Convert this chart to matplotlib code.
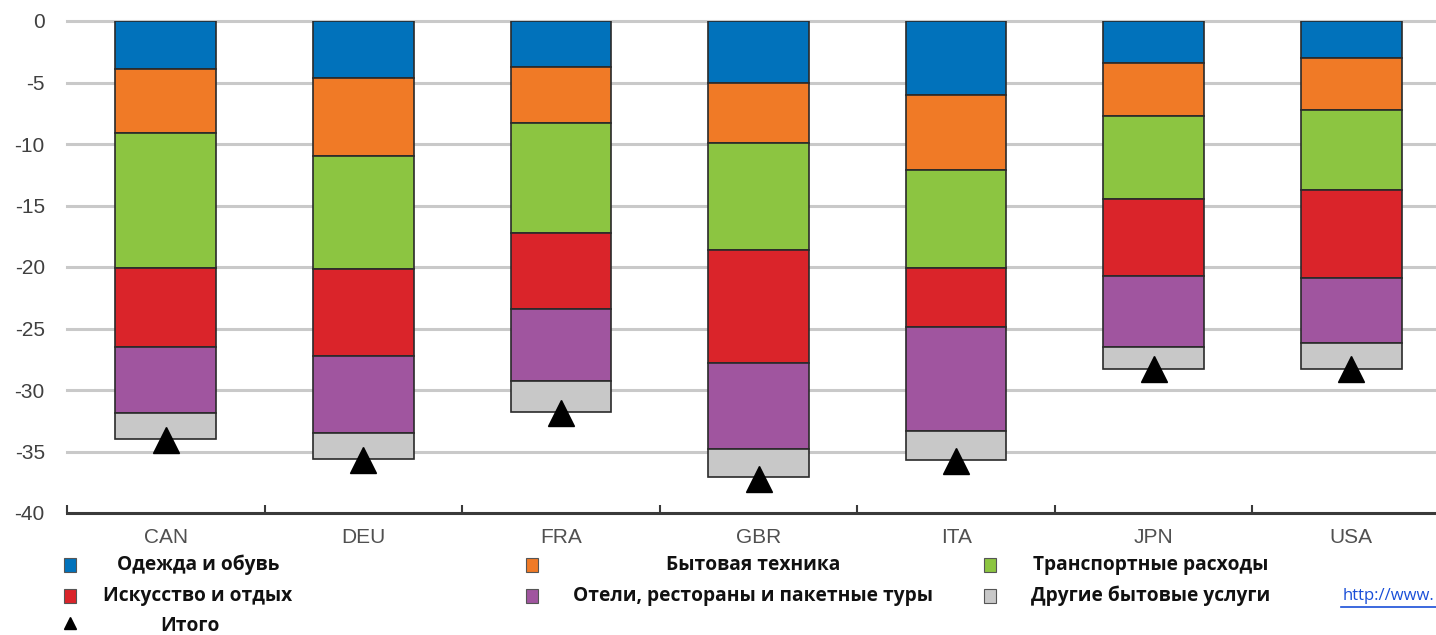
import matplotlib
matplotlib.use("Agg")
import matplotlib.pyplot as plt
from matplotlib.patches import Rectangle
from matplotlib.lines import Line2D
import numpy as np

countries = ["CAN", "DEU", "FRA", "GBR", "ITA", "JPN", "USA"]
clothing = [-3.9, -4.6, -3.7, -5.0, -6.0, -3.4, -3.0]
appliances = [-5.2, -6.4, -4.6, -4.9, -6.1, -4.3, -4.2]
transport = [-11.0, -9.2, -8.9, -8.7, -8.0, -6.8, -6.5]
recreation = [-6.4, -7.0, -6.2, -9.2, -4.8, -6.2, -7.2]
hotels = [-5.4, -6.3, -5.9, -7.0, -8.4, -5.8, -5.3]
other = [-2.1, -2.1, -2.5, -2.3, -2.4, -1.8, -2.1]
total = [-34.1, -35.7, -31.9, -37.2, -35.8, -28.3, -28.3]
yticks = [0, -5, -10, -15, -20, -25, -30, -35, -40]

series = [clothing, appliances, transport, recreation, hotels, other]
labels = ["Одежда и обувь", "Бытовая техника", "Транспортные расходы",
          "Искусство и отдых", "Отели, рестораны и пакетные туры",
          "Другие бытовые услуги"]
colors = ["#0172bb", "#f07a26", "#8cc541", "#da242a", "#a0559f", "#c8c8c8"]

W, H = 1436, 635
fig = plt.figure(figsize=(W / 100, H / 100), dpi=100)
left, right, top, bottom = 67, 1450, 21, 513
ax = fig.add_axes([left / W, 1 - bottom / H, (right - left) / W, (bottom - top) / H])

x = np.arange(len(countries))
base = np.zeros(len(countries))
for vals, col in zip(series, colors):
    v = np.array(vals)
    ax.bar(x, v, bottom=base, width=0.51, color=col, edgecolor="#2a2a2a",
           linewidth=1.2, zorder=3)
    base = base + v

ax.plot(x, total, linestyle="none", marker="^", markersize=19, color="black", zorder=4)

ax.set_xlim(-0.5, len(countries) - 0.5)
ax.set_ylim(-40, 0)
ax.set_yticks(yticks)
ax.set_yticklabels([str(t) for t in yticks])
ax.set_xticks(x)
ax.set_xticklabels(countries)
ax.set_xticks(np.arange(-0.5, len(countries), 1.0), minor=True)

for s in ["left", "right", "top"]:
    ax.spines[s].set_visible(False)
ax.spines["bottom"].set_color("#3a3a3a")
ax.spines["bottom"].set_linewidth(2.2)

tick_family = ["Liberation Sans Narrow", "Liberation Sans", "DejaVu Sans"]
ax.tick_params(axis="y", length=0, pad=16, labelsize=15, labelcolor="#404040")
ax.tick_params(axis="x", which="major", length=0, pad=11, labelsize=15, labelcolor="#505050")
ax.tick_params(axis="x", which="minor", direction="in", length=6, width=1.5, color="#3a3a3a")
for lab in ax.get_yticklabels() + ax.get_xticklabels():
    lab.set_fontfamily(tick_family)

for t in yticks[:-1]:
    ax.axhline(t, color="#c9c9c9", linewidth=2.2, zorder=1, clip_on=False)

# legend
leg_font = ["Open Sans", "DejaVu Sans"]
def fx(px):
    return px / W
def fy(py):
    return 1 - py / H

rows = [565, 596, 626]
cols_marker = [70, 532, 990]
cols_text = [198, 753, 1151]
order = [(0, 0, 0), (1, 1, 0), (2, 2, 0), (3, 0, 1), (4, 1, 1), (5, 2, 1)]
for idx, c, r in order:
    fig.add_artist(Rectangle((fx(cols_marker[c] - 6), fy(rows[r] + 7)), 12 / W, 14 / H,
                             transform=fig.transFigure, facecolor=colors[idx],
                             edgecolor="#555555", linewidth=0.8))
    fig.text(fx(cols_text[c]), fy(rows[r]), labels[idx], ha="center", va="center",
             fontsize=13.8, fontweight="bold", family=leg_font, color="#111111")

fig.add_artist(Line2D([fx(70)], [fy(rows[2] - 3)], marker="^", markersize=9,
                      color="black", linestyle="none", transform=fig.transFigure))
fig.text(fx(190), fy(rows[2]), "Итого", ha="center", va="center",
         fontsize=13.8, fontweight="bold", family=leg_font, color="#111111")

fig.text(fx(1434), fy(596), "http://www.", ha="right", va="center", fontsize=12,
         family=leg_font, color="#1a4fd8")
fig.add_artist(Line2D([fx(1341), fx(1436)], [fy(607), fy(607)], color="#1a4fd8",
                      linewidth=1.2, transform=fig.transFigure))

fig.savefig("out.png", dpi=100)
